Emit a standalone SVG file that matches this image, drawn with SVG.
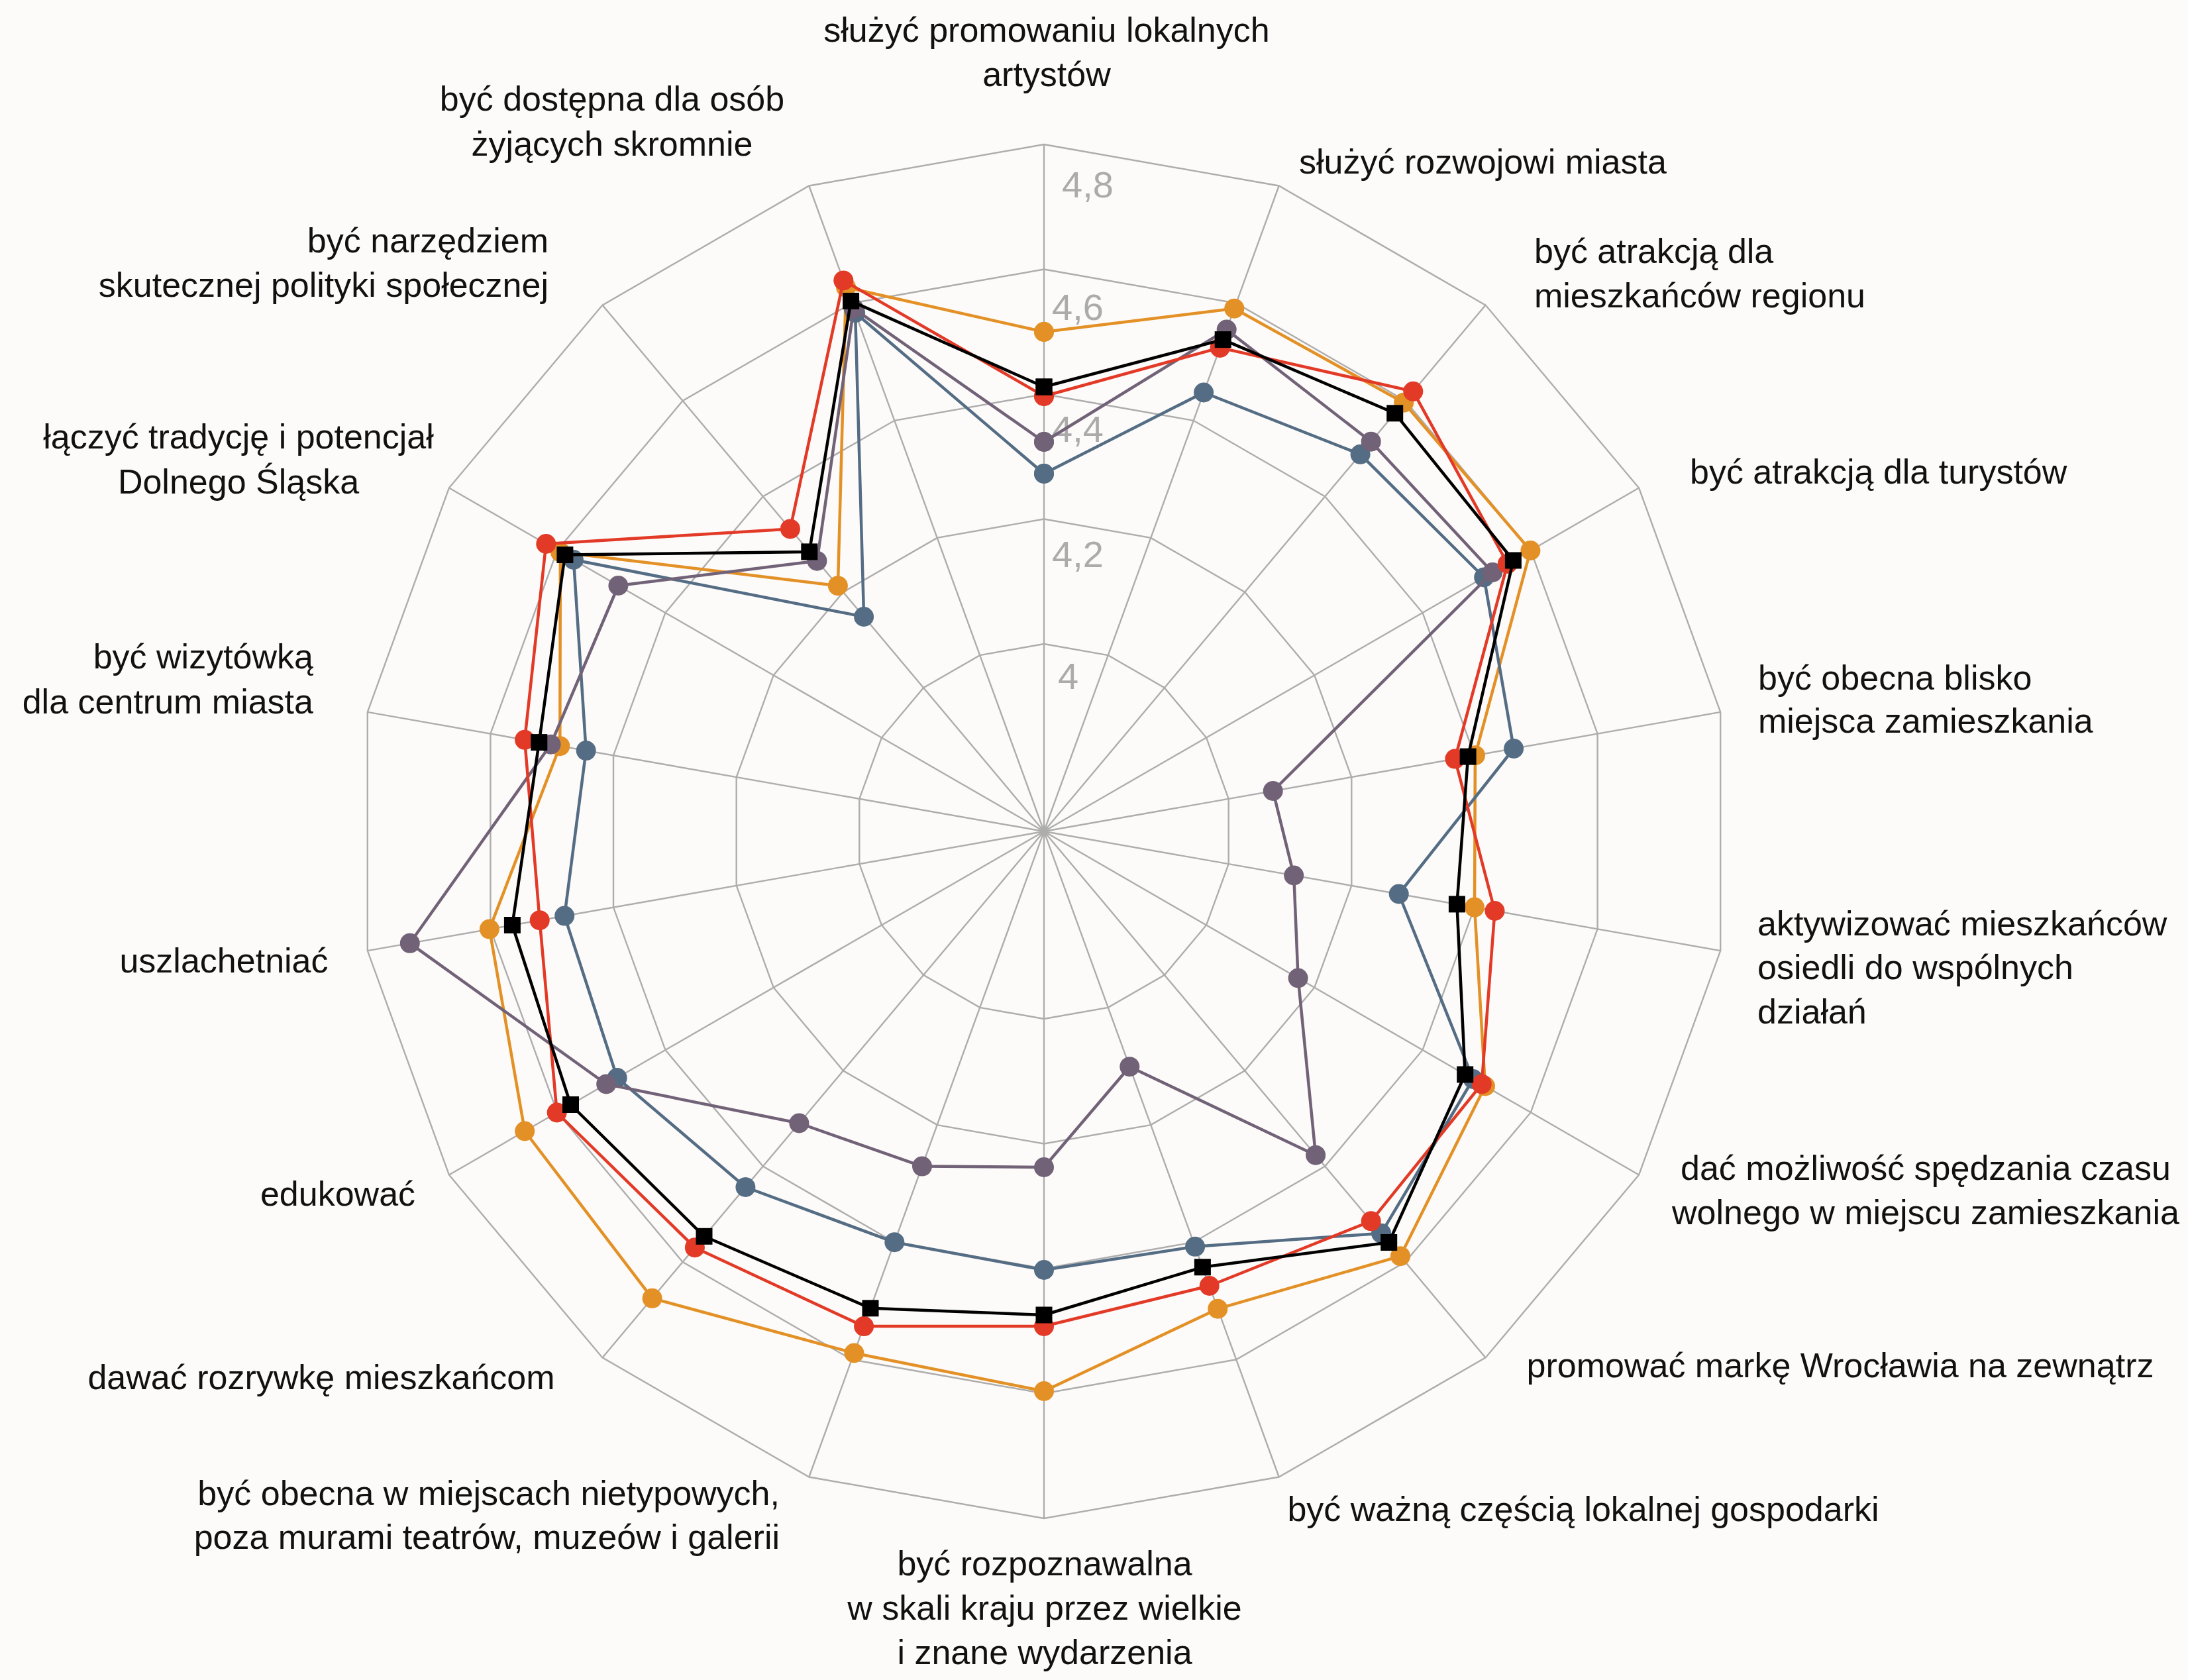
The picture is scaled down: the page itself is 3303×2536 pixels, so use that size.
<svg xmlns="http://www.w3.org/2000/svg" width="3303" height="2536" viewBox="0 0 3303 2536">
<style>
.grid{fill:none;stroke:#ADADAD;stroke-width:2.4}
.spoke{stroke:#ADADAD;stroke-width:2.4}
.lbl{font-family:"Liberation Sans",Arial,sans-serif;font-size:52px;fill:#111}
.mid{text-anchor:middle}
.end{text-anchor:end}
.scale{font-family:"Liberation Sans",Arial,sans-serif;font-size:56px;fill:#ABABAB}
.ser{fill:none;stroke-width:4.5;stroke-linejoin:round}
</style>
<defs>
<marker id="m-orange" viewBox="-16 -16 32 32" markerWidth="32" markerHeight="32" markerUnits="userSpaceOnUse" orient="0"><circle r="15" fill="#E39126"/></marker>
<marker id="m-blue" viewBox="-16 -16 32 32" markerWidth="32" markerHeight="32" markerUnits="userSpaceOnUse" orient="0"><circle r="15" fill="#546D84"/></marker>
<marker id="m-purple" viewBox="-16 -16 32 32" markerWidth="32" markerHeight="32" markerUnits="userSpaceOnUse" orient="0"><circle r="15" fill="#716277"/></marker>
<marker id="m-red" viewBox="-16 -16 32 32" markerWidth="32" markerHeight="32" markerUnits="userSpaceOnUse" orient="0"><circle r="15" fill="#E23A27"/></marker>
<marker id="m-black" viewBox="-14 -14 28 28" markerWidth="28" markerHeight="28" markerUnits="userSpaceOnUse" orient="0"><rect x="-12.5" y="-12.5" width="25" height="25" fill="#000"/></marker>
</defs>
<rect width="3303" height="2536" fill="#FDFBF9"/>
<g id="grid">
<polygon class="grid" points="1576,218 1930.7,280.5 2242.6,460.6 2474.1,736.5 2597.2,1074.9 2597.2,1435.1 2474.1,1773.5 2242.6,2049.4 1930.7,2229.5 1576,2292 1221.3,2229.5 909.4,2049.4 677.9,1773.5 554.8,1435.1 554.8,1074.9 677.9,736.5 909.4,460.6 1221.3,280.5"/>
<polygon class="grid" points="1576,406.5 1866.2,457.7 2121.4,605 2310.8,830.75 2411.6,1107.7 2411.6,1402.3 2310.8,1679.25 2121.4,1905 1866.2,2052.3 1576,2103.5 1285.8,2052.3 1030.6,1905 841.2,1679.25 740.4,1402.3 740.4,1107.7 841.2,830.75 1030.6,605 1285.8,457.7"/>
<polygon class="grid" points="1576,595 1801.7,634.8 2000.2,749.4 2147.6,925 2226,1140.4 2226,1369.6 2147.6,1585 2000.2,1760.6 1801.7,1875.2 1576,1915 1350.3,1875.2 1151.8,1760.6 1004.4,1585 926,1369.6 926,1140.4 1004.4,925 1151.8,749.4 1350.3,634.8"/>
<polygon class="grid" points="1576,783.5 1737.3,811.9 1879.1,893.8 1984.3,1019.25 2040.3,1173.1 2040.3,1336.9 1984.3,1490.75 1879.1,1616.2 1737.3,1698.1 1576,1726.5 1414.7,1698.1 1272.9,1616.2 1167.7,1490.75 1111.7,1336.9 1111.7,1173.1 1167.7,1019.25 1272.9,893.8 1414.7,811.9"/>
<polygon class="grid" points="1576,972 1672.8,989.1 1757.9,1038.2 1821.1,1113.5 1854.7,1205.9 1854.7,1304.1 1821.1,1396.5 1757.9,1471.8 1672.8,1520.9 1576,1538 1479.2,1520.9 1394.1,1471.8 1330.9,1396.5 1297.3,1304.1 1297.3,1205.9 1330.9,1113.5 1394.1,1038.2 1479.2,989.1"/>
<path class="spoke" d="M1576,1255L1576,218M1576,1255L1930.7,280.5M1576,1255L2242.6,460.6M1576,1255L2474.1,736.5M1576,1255L2597.2,1074.9M1576,1255L2597.2,1435.1M1576,1255L2474.1,1773.5M1576,1255L2242.6,2049.4M1576,1255L1930.7,2229.5M1576,1255L1576,2292M1576,1255L1221.3,2229.5M1576,1255L909.4,2049.4M1576,1255L677.9,1773.5M1576,1255L554.8,1435.1M1576,1255L554.8,1074.9M1576,1255L677.9,736.5M1576,1255L909.4,460.6M1576,1255L1221.3,280.5"/>
</g>
<g id="scale">
<text class="scale" x="1603" y="298">4,8</text>
<text class="scale" x="1588" y="483">4,6</text>
<text class="scale" x="1588" y="667">4,4</text>
<text class="scale" x="1588" y="856">4,2</text>
<text class="scale" x="1597" y="1040">4</text>
</g>
<g id="connectors">
<polygon id="series-orange" class="ser" stroke="#E39126" marker-start="url(#m-orange)" marker-mid="url(#m-orange)" marker-end="url(#m-orange)" points="1576,501 1863.3,465.7 2119.2,607.7 2310.4,831 2227,1140.2 2226,1369.6 2242,1639.5 2114,1896.2 1838.3,1975.7 1576,2100 1289.4,2042.5 984.6,1959.8 792.2,1707.5 738.9,1402.6 845.3,1126.2 845.9,833.5 1264.9,884.2 1277.1,433.7"/>
<polygon id="series-blue" class="ser" stroke="#546D84" marker-start="url(#m-blue)" marker-mid="url(#m-blue)" marker-end="url(#m-blue)" points="1576,715 1817.1,592.5 2053.6,685.8 2240.2,871.5 2285.1,1130 2111.7,1349.5 2223.8,1629 2085.1,1861.7 1804.1,1881.8 1576,1917 1350.3,1875.2 1125.4,1792 931.7,1627 852.2,1382.6 884.7,1133.1 865.9,845 1304.1,931 1291.1,472.2"/>
<polygon id="series-purple" class="ser" stroke="#716277" marker-start="url(#m-purple)" marker-mid="url(#m-purple)" marker-end="url(#m-purple)" points="1576,667 1851.7,497.6 2069.7,666.7 2253.2,864 1921.7,1194 1953.2,1321.5 1959.6,1476.5 1986.1,1743.7 1705.3,1610.2 1576,1762 1392,1760.6 1206.4,1695.5 915.2,1636.5 618.8,1423.8 831.5,1123.7 933.4,884 1233.4,846.7 1288.7,465.7"/>
<polygon id="series-red" class="ser" stroke="#E23A27" marker-start="url(#m-red)" marker-mid="url(#m-red)" marker-end="url(#m-red)" points="1576,598 1841.7,524.9 2133.3,590.8 2275.8,851 2196.4,1145.6 2256.5,1375 2236.8,1636.5 2069.7,1843.3 1825.7,1941 1576,2002 1304.1,2002.1 1048.9,1883.2 840.7,1679.5 814.7,1389.2 792.1,1116.8 824.3,821 1192.9,798.4 1273.3,423.4"/>
<polygon id="series-black" class="ser" stroke="#000" marker-start="url(#m-black)" marker-mid="url(#m-black)" marker-end="url(#m-black)" points="1576,584 1846.2,512.6 2105.7,623.8 2284.4,846 2216.1,1142.1 2199.4,1364.9 2211.7,1622 2096.7,1875.5 1815.4,1912.8 1576,1985 1314,1974.8 1063,1866.3 861.5,1667.5 773.4,1396.5 813.8,1120.6 852.9,837.5 1221.8,832.9 1284.6,454.4"/>
</g>
<g id="label-0"><text class="lbl mid" x="1580" y="63">służyć promowaniu lokalnych</text><text class="lbl mid" x="1580" y="130">artystów</text></g>
<g id="label-1"><text class="lbl" x="1961" y="262">służyć rozwojowi miasta</text></g>
<g id="label-2"><text class="lbl" x="2316" y="397">być atrakcją dla</text><text class="lbl" x="2316" y="464">mieszkańców regionu</text></g>
<g id="label-3"><text class="lbl" x="2551" y="730">być atrakcją dla turystów</text></g>
<g id="label-4"><text class="lbl" x="2654" y="1041">być obecna blisko</text><text class="lbl" x="2654" y="1106">miejsca zamieszkania</text></g>
<g id="label-5"><text class="lbl" x="2653" y="1412">aktywizować mieszkańców</text><text class="lbl" x="2653" y="1478">osiedli do wspólnych</text><text class="lbl" x="2653" y="1545">działań</text></g>
<g id="label-6"><text class="lbl mid" x="2907" y="1781">dać możliwość spędzania czasu</text><text class="lbl mid" x="2907" y="1848">wolnego w miejscu zamieszkania</text></g>
<g id="label-7"><text class="lbl mid" x="2778" y="2079">promować markę Wrocławia na zewnątrz</text></g>
<g id="label-8"><text class="lbl mid" x="2390" y="2296">być ważną częścią lokalnej gospodarki</text></g>
<g id="label-9"><text class="lbl mid" x="1577" y="2378">być rozpoznawalna</text><text class="lbl mid" x="1577" y="2445">w skali kraju przez wielkie</text><text class="lbl mid" x="1577" y="2512">i znane wydarzenia</text></g>
<g id="label-10"><text class="lbl end" x="1177" y="2272">być obecna w miejscach nietypowych,</text><text class="lbl end" x="1177" y="2338">poza murami teatrów, muzeów i galerii</text></g>
<g id="label-11"><text class="lbl mid" x="485" y="2097">dawać rozrywkę mieszkańcom</text></g>
<g id="label-12"><text class="lbl mid" x="510" y="1820">edukować</text></g>
<g id="label-13"><text class="lbl mid" x="338" y="1468">uszlachetniać</text></g>
<g id="label-14"><text class="lbl end" x="473" y="1009">być wizytówką</text><text class="lbl end" x="473" y="1077">dla centrum miasta</text></g>
<g id="label-15"><text class="lbl mid" x="360" y="677">łączyć tradycję i potencjał</text><text class="lbl mid" x="360" y="745">Dolnego Śląska</text></g>
<g id="label-16"><text class="lbl end" x="828" y="381">być narzędziem</text><text class="lbl end" x="828" y="448">skutecznej polityki społecznej</text></g>
<g id="label-17"><text class="lbl mid" x="924" y="167">być dostępna dla osób</text><text class="lbl mid" x="924" y="235">żyjących skromnie</text></g>
</svg>
